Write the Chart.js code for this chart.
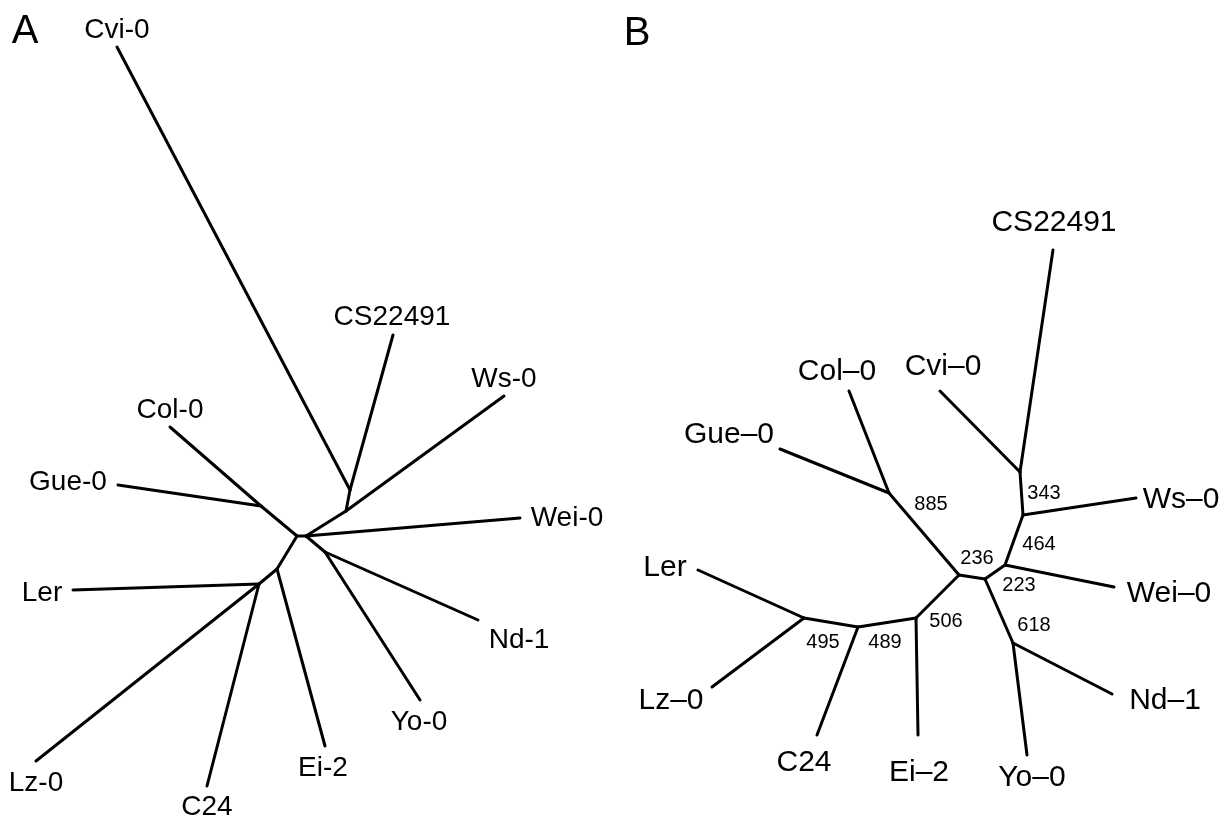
<!DOCTYPE html>
<html>
<head>
<meta charset="utf-8">
<script src="https://cdn.jsdelivr.net/npm/chart.js@4/dist/chart.umd.min.js"></script>
<style>
html,body{margin:0;padding:0;background:#fff;}
#wrap{width:1225px;height:816px;}
</style>
</head>
<body>
<div id="wrap"><canvas id="c" width="1225" height="816"></canvas></div>
<script>
// ---------- Panel A: unrooted tree (node layout in plot units) ----------
const treeA_ids    = ['Cvi-0','CS22491','Ws-0','Wei-0','Nd-1','Yo-0','Ei-2','C24','Lz-0','Ler','Gue-0','Col-0','a1','a2','a3','a4','a5','a6','cR','cL'];
const treeA_x      = [117, 393, 504, 520, 478, 420, 325, 207, 36, 73, 118, 170, 350, 346, 325, 261, 277, 259, 306, 297];
const treeA_y      = [47, 335, 396, 518, 620, 700, 746, 786, 761, 590, 485, 427, 490, 511, 552, 506, 569, 584, 536, 536];
const treeA_parent = ['a1','a1','a2','cR','a3','a3','a5','a6','a6','a6','a4','a4','a2','cR','cR','cL','cL','a5','cL',null];

// tip labels panel A (label centre positions)
const labelsA  = ['Cvi-0','CS22491','Ws-0','Col-0','Gue-0','Wei-0','Ler','Nd-1','Yo-0','Ei-2','Lz-0','C24'];
const labelsAx = [117, 392, 504, 170, 68, 567, 42, 519, 419, 323, 36, 207];
const labelsAy = [28, 315, 377, 408, 480, 516, 591, 638, 720, 766, 781, 805];

// ---------- Panel B: tree with support values ----------
const treeB_ids    = ['CS22491','Cvi–0','Col–0','Gue–0','Ws–0','Wei–0','Nd–1','Yo–0','Ei–2','C24','Lz–0','Ler','n343','nWs','nWei','cR','n618','cL','nColGue','n506','n489','n495'];
const treeB_x      = [1053, 940, 849, 780, 1136, 1114, 1112, 1027, 918, 817, 712, 698, 1020, 1023, 1005, 985, 1013, 959, 889, 916, 858, 804];
const treeB_y      = [250, 391, 391, 449, 498, 587, 694, 755, 735, 735, 687, 570, 472, 515, 565, 579, 643, 575, 493, 618, 627, 618];
const treeB_parent = ['n343','n343','nColGue','nColGue','nWs','nWei','n618','n618','n506','n489','n495','n495','nWs','nWei','cR','cL','cR',null,'cL','cL','n506','n489'];

const labelsB  = ['CS22491','Col–0','Cvi–0','Gue–0','Ws–0','Wei–0','Ler','Lz–0','Nd–1','C24','Ei–2','Yo–0'];
const labelsBx = [1054, 837, 943, 729, 1181, 1169, 665, 671, 1165, 804, 919, 1032];
const labelsBy = [220, 369, 364, 432, 497, 591, 565, 698, 698, 760, 770, 775];

// bootstrap support values panel B
const supportB  = ['343','464','223','236','885','506','489','495','618'];
const supportBx = [1044, 1039, 1019, 977, 931, 946, 885, 823, 1034];
const supportBy = [492, 543, 584, 557, 503, 620, 641, 641, 624];

// panel letters
const panelLetters = ['A','B'];
const panelX = [25, 637];
const panelY = [29, 31];

// ---------- build datasets ----------
const datasets = [];
function addTree(ids, xs, ys, parents) {
  ids.forEach((id, i) => {
    const p = parents[i];
    if (p === null) return;
    const j = ids.indexOf(p);
    datasets.push({
      label: id,
      data: [{x: xs[i], y: ys[i]}, {x: xs[j], y: ys[j]}],
      showLine: true,
      borderColor: '#000',
      borderWidth: 3,
      pointRadius: 0,
      pointHoverRadius: 0,
      borderCapStyle: 'round',
      borderJoinStyle: 'round',
      fill: false
    });
  });
}
addTree(treeA_ids, treeA_x, treeA_y, treeA_parent);
addTree(treeB_ids, treeB_x, treeB_y, treeB_parent);

const FONT = '"Liberation Sans", Arial, Helvetica, sans-serif';

const textPlugin = {
  id: 'treeText',
  afterDatasetsDraw(chart) {
    const ctx = chart.ctx;
    const sx = chart.scales.x, sy = chart.scales.y;
    ctx.save();
    ctx.fillStyle = '#000';
    ctx.textAlign = 'center';
    ctx.textBaseline = 'alphabetic';
    function put(txt, x, y, size) {
      ctx.font = size + 'px ' + FONT;
      ctx.fillText(txt, sx.getPixelForValue(x), sy.getPixelForValue(y) + 0.358 * size);
    }
    labelsA.forEach((t, i) => put(t, labelsAx[i], labelsAy[i], 28));
    labelsB.forEach((t, i) => put(t, labelsBx[i], labelsBy[i], 30));
    supportB.forEach((t, i) => put(t, supportBx[i], supportBy[i], 20));
    panelLetters.forEach((t, i) => put(t, panelX[i], panelY[i], 40));
    ctx.restore();
  }
};

new Chart(document.getElementById('c'), {
  type: 'scatter',
  data: { datasets },
  options: {
    responsive: false,
    animation: false,
    layout: { padding: 0 },
    plugins: { legend: { display: false }, tooltip: { enabled: false }, title: { display: false } },
    scales: {
      x: { type: 'linear', min: 0, max: 1225, display: false },
      y: { type: 'linear', min: 0, max: 816, reverse: true, display: false }
    }
  },
  plugins: [textPlugin]
});
</script>
</body>
</html>
